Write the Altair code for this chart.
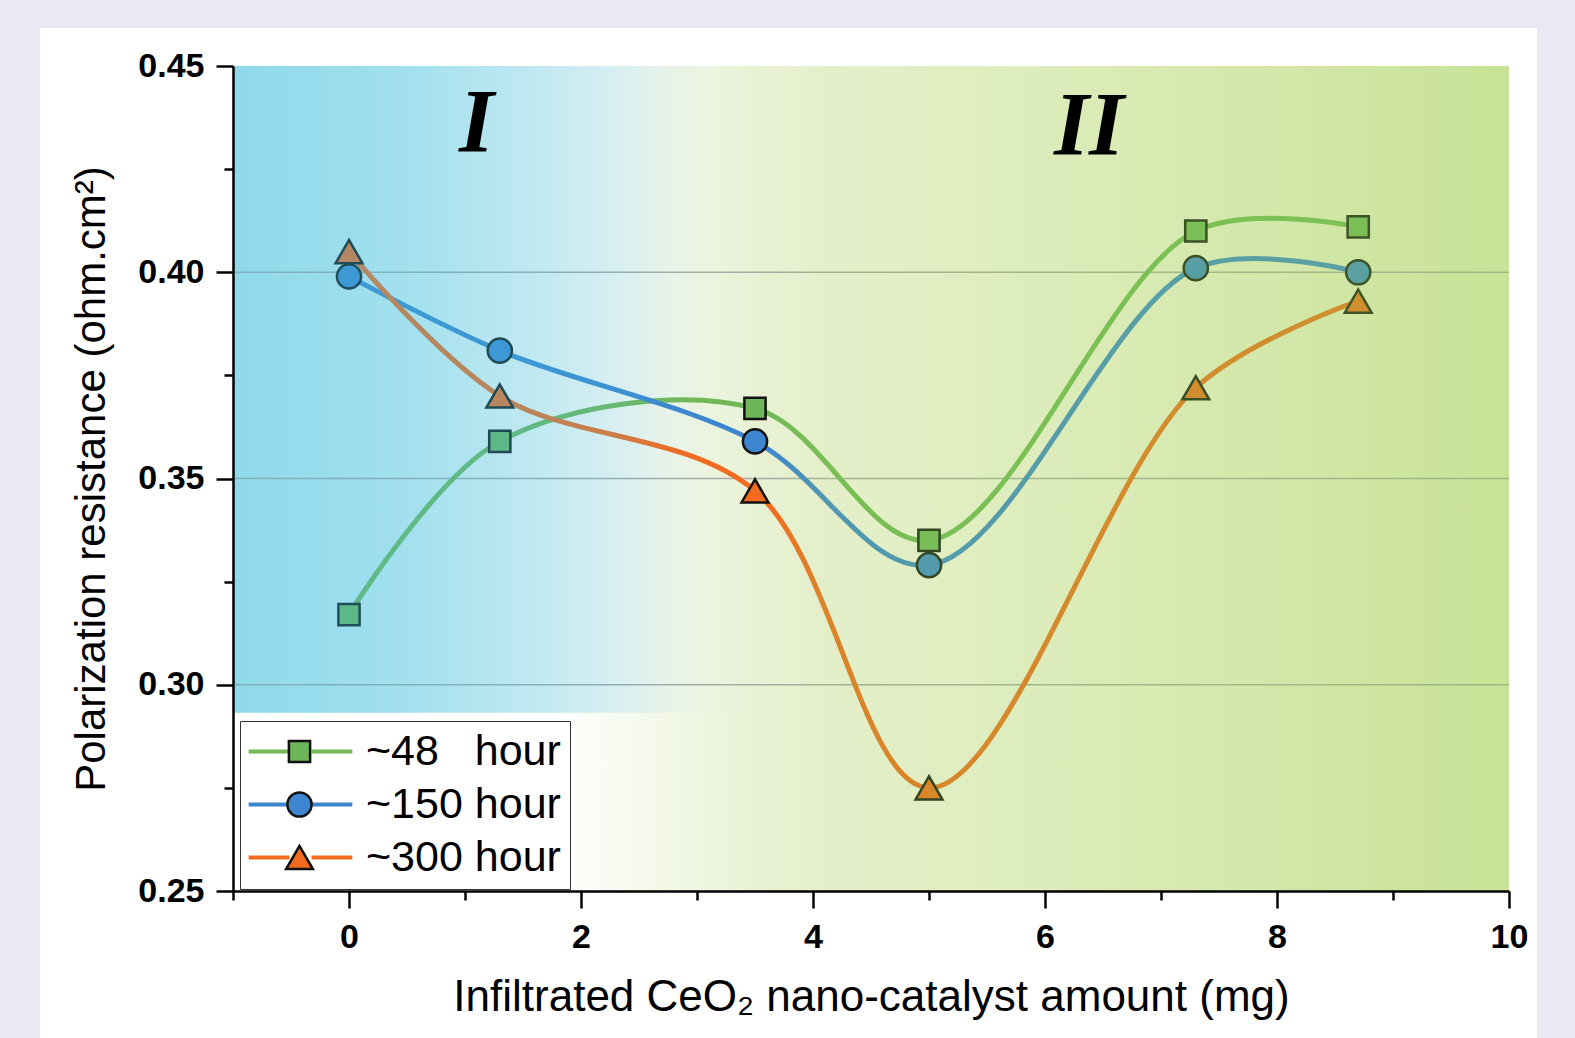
import altair as alt
import pandas as pd

# ---------------- data ----------------
x_vals = [0.0, 1.3, 3.5, 5.0, 7.3, 8.7]
r48 = [0.317, 0.359, 0.367, 0.335, 0.410, 0.411]
r150 = [0.399, 0.381, 0.359, 0.329, 0.401, 0.400]
r300 = [0.405, 0.370, 0.347, 0.275, 0.372, 0.393]

series = ["~48\u00a0\u00a0\u00a0hour", "~150 hour", "~300 hour"]
line_colors = ["#72b857", "#3d86cf", "#f26b1e"]
fill_colors = ["#6fb55a", "#3d86cf", "#f26b1e"]
shapes = ["square", "circle", "triangle-up"]
sizes = [450, 720, 920]

x_ticks = [0, 2, 4, 6, 8, 10]
x_minor = [-1, 1, 3, 5, 7, 9]
y_ticks = [0.25, 0.30, 0.35, 0.40, 0.45]
y_minor = [0.275, 0.325, 0.375, 0.425]
grid_vals = [0.30, 0.35, 0.40]

region_labels = ["I", "II"]
region_x = [1.1, 6.38]
region_y = [0.4292, 0.4285]

x_domain = [-1, 10]
y_domain = [0.25, 0.45]
cyan_x = [-1, 3.6]
cyan_y = [0.2932, 0.45]

rows = []
for s, vals in zip(series, [r48, r150, r300]):
    for i, (xv, yv) in enumerate(zip(x_vals, vals)):
        rows.append({"series": s, "x": xv, "y": yv, "i": i})
df = pd.DataFrame(rows)

# ---------------- styling helpers ----------------
def comp(F, O, a_target):
    amax = 1.0
    for f, o in zip(F, O):
        if o < 255:
            amax = min(amax, (255 - f) / (255 - o))
        if o > 0:
            amax = min(amax, f / o)
    a = max(0.0, min(a_target, 0.97 * amax))
    B = [max(0, min(255, round((f - a * o) / (1 - a)))) for f, o in zip(F, O)]
    return B, a


def gradients(stops, O):
    bottom, top = [], []
    for off, F, a_t in stops:
        B, a = comp(F, O, a_t)
        bottom.append(alt.GradientStop(offset=off, color="rgb(%d,%d,%d)" % tuple(B)))
        top.append(alt.GradientStop(offset=off, color="rgba(%d,%d,%d,%.3f)" % (O[0], O[1], O[2], a)))
    g1 = alt.LinearGradient(gradient="linear", stops=bottom, x1=0, x2=1, y1=0, y2=0)
    g2 = alt.LinearGradient(gradient="linear", stops=top, x1=0, x2=1, y1=0, y2=0)
    return g1, g2

cyan_O = (60, 190, 225)
cyan_stops = [
    (0.0, (143, 217, 235), 0.35),
    (0.30, (160, 223, 238), 0.35),
    (0.55, (190, 232, 241), 0.35),
    (0.72, (215, 239, 242), 0.2),
    (0.82, (232, 243, 232), 0.05),
    (0.90, (236, 244, 222), 0.0),
    (1.0, (231, 241, 209), 0.0),
]
green_O = (144, 210, 78)
green_stops = [
    (0.0, (255, 255, 255), 0.0),
    (0.25, (255, 255, 255), 0.0),
    (0.355, (240, 246, 228), 0.0),
    (0.418, (231, 241, 209), 0.0),
    (0.46, (228, 239, 202), 0.25),
    (0.60, (222, 237, 190), 0.35),
    (0.83, (210, 231, 168), 0.35),
    (1.0, (200, 226, 150), 0.35),
]
cyan_bottom, cyan_top = gradients(cyan_stops, cyan_O)
green_bottom, green_top = gradients(green_stops, green_O)

xs = alt.Scale(domain=x_domain, nice=False, zero=False)
ys = alt.Scale(domain=y_domain, nice=False, zero=False)

FONT = "Liberation Sans"

main_x_axis = alt.Axis(values=x_ticks, orient="bottom", tickSize=17, tickWidth=2.5, tickColor="black",
                       domainColor="black", domainWidth=2.5, labelFont=FONT, labelFontWeight="bold",
                       labelFontSize=34, labelColor="black", labelPadding=12, grid=False,
                       title="Infiltrated CeO\u2082 nano-catalyst amount (mg)", titleFont=FONT,
                       titleFontSize=44, titleFontWeight="normal", titleColor="black", titlePadding=21,
                       zindex=1, labelFlush=False)
main_y_axis = alt.Axis(values=y_ticks, orient="left", format=".2f", tickSize=17, tickWidth=2.5,
                       tickColor="black", domainColor="black", domainWidth=2.5, labelFont=FONT,
                       labelFontWeight="bold", labelFontSize=34, labelColor="black", labelPadding=12,
                       grid=False, title="Polarization resistance (ohm.cm\u00b2)", titleFont=FONT,
                       titleFontSize=42, titleFontWeight="normal", titleColor="black", titlePadding=24,
                       zindex=1, labelFlush=False)
minor_x_axis = alt.Axis(values=x_minor, orient="bottom", tickSize=9, tickWidth=2.5, tickColor="black",
                        labels=False, domain=False, grid=False, title=None, zindex=1)
minor_y_axis = alt.Axis(values=y_minor, orient="left", tickSize=9, tickWidth=2.5, tickColor="black",
                        labels=False, domain=False, grid=False, title=None, zindex=1)

# ---------------- layers ----------------
one = pd.DataFrame({"a": [0]})
panel = alt.Chart(one).mark_rect(fill="white").encode(
    x=alt.value(-193), x2=alt.value(1304), y=alt.value(-38), y2=alt.value(990)
)

green_df = pd.DataFrame({"x0": [x_domain[0]], "x1": [x_domain[1]], "y0": [y_domain[0]], "y1": [y_domain[1]]})
cyan_df = pd.DataFrame({"x0": [cyan_x[0]], "x1": [cyan_x[1]], "y0": [cyan_y[0]], "y1": [cyan_y[1]]})

green_bg = alt.Chart(green_df).mark_rect(fill=green_bottom).encode(
    x=alt.X("x0:Q", scale=xs, axis=minor_x_axis), x2="x1:Q",
    y=alt.Y("y0:Q", scale=ys, axis=minor_y_axis), y2="y1:Q")
cyan_bg = alt.Chart(cyan_df).mark_rect(fill=cyan_bottom).encode(
    x=alt.X("x0:Q", scale=xs, axis=None), x2="x1:Q",
    y=alt.Y("y0:Q", scale=ys, axis=None), y2="y1:Q")

grid = alt.Chart(pd.DataFrame({"g": grid_vals})).mark_rule(color="#a7aaa7", strokeWidth=1.3).encode(
    y=alt.Y("g:Q", scale=ys, axis=None))

legend_lines = alt.Legend(orient="none", legendX=7, legendY=655, direction="vertical", fillColor="white",
                          strokeColor="#333333", padding=9, symbolType="M-3.05,0H-0.65M0.65,0H3.05",
                          symbolSize=1156, symbolStrokeWidth=4, symbolOffset=30, labelOffset=44,
                          labelFontSize=43, labelFont=FONT, labelColor="black", rowPadding=9,
                          title=None, zindex=0, labelLimit=400)
legend_marks = alt.Legend(orient="none", legendX=7, legendY=655, direction="vertical", padding=9,
                          symbolOffset=29, labelOffset=44, labelFontSize=43, labelFont=FONT,
                          labelOpacity=0, rowPadding=9, title=None, zindex=1, symbolSize=660,
                          symbolStrokeColor="#111111", symbolStrokeWidth=2.5, labelLimit=400)

lines = alt.Chart(df).mark_line(interpolate="catmull-rom", strokeWidth=5).encode(
    x=alt.X("x:Q", scale=xs, axis=main_x_axis),
    y=alt.Y("y:Q", scale=ys, axis=main_y_axis),
    stroke=alt.Stroke("series:N", sort=series, scale=alt.Scale(range=line_colors), legend=legend_lines),
    order="i:Q",
)

points = alt.Chart(df).mark_point(filled=True, opacity=1, stroke="#111111", strokeWidth=2.5).encode(
    x=alt.X("x:Q", scale=xs, axis=None),
    y=alt.Y("y:Q", scale=ys, axis=None),
    color=alt.Color("series:N", scale=alt.Scale(domain=series, range=fill_colors), legend=legend_marks),
    shape=alt.Shape("series:N", scale=alt.Scale(domain=series, range=shapes), legend=legend_marks),
    size=alt.Size("series:N", scale=alt.Scale(domain=series, range=sizes), legend=None),
)

green_ov = alt.Chart(green_df).mark_rect(fill=green_top).encode(
    x=alt.X("x0:Q", scale=xs, axis=None), x2="x1:Q",
    y=alt.Y("y0:Q", scale=ys, axis=None), y2="y1:Q")
cyan_ov = alt.Chart(cyan_df).mark_rect(fill=cyan_top).encode(
    x=alt.X("x0:Q", scale=xs, axis=None), x2="x1:Q",
    y=alt.Y("y0:Q", scale=ys, axis=None), y2="y1:Q")

regions = alt.Chart(pd.DataFrame({"t": region_labels, "x": region_x, "y": region_y})).mark_text(
    font="Liberation Serif", fontStyle="italic", fontWeight="bold", fontSize=90,
    align="center", baseline="alphabetic", color="black").encode(
    x=alt.X("x:Q", scale=xs, axis=None), y=alt.Y("y:Q", scale=ys, axis=None), text="t:N")

chart = alt.layer(
    panel, green_bg, cyan_bg, grid, lines, points, green_ov, cyan_ov, regions
).resolve_axis(x="independent", y="independent").properties(
    width=1276, height=825,
    autosize=alt.AutoSizeParams(type="none"),
    padding={"left": 233, "top": 66, "right": 66, "bottom": 147},
    background="#e9e9f3",
).configure_view(stroke="black", strokeWidth=3)

chart.save("out.html", embed_options={"renderer": "svg", "actions": False})
